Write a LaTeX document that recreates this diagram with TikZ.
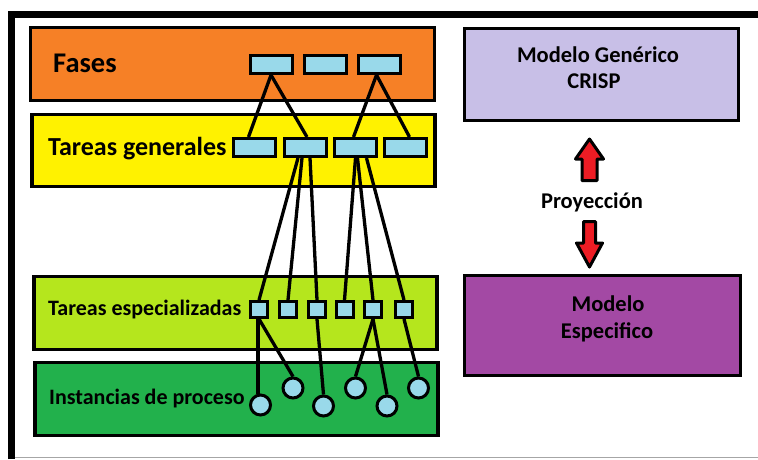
\documentclass[tikz,border=0pt]{standalone}
\usepackage{fontspec}
\setmainfont{Carlito}
\usetikzlibrary{calc}
\definecolor{faseorange}{RGB}{246,128,38}
\definecolor{tareayellow}{RGB}{255,242,0}
\definecolor{espelime}{RGB}{181,230,29}
\definecolor{instgreen}{RGB}{34,177,76}
\definecolor{genlavender}{RGB}{200,191,231}
\definecolor{especpurple}{RGB}{163,73,164}
\definecolor{itemblue}{RGB}{153,217,234}
\definecolor{arrowred}{RGB}{237,28,36}
\begin{document}
\begin{tikzpicture}[x=1pt,y=-1pt,
  band/.style={draw=black, line width=3.4pt, rectangle, inner sep=0pt},
  item/.style={draw=black, line width=3pt, fill=itemblue, rectangle, inner sep=0pt, minimum width=42pt, minimum height=18pt},
  subitem/.style={draw=black, line width=3pt, fill=itemblue, rectangle, inner sep=0pt, minimum width=17pt, minimum height=16pt},
  inst/.style={draw=black, line width=3pt, fill=itemblue, circle, inner sep=0pt, minimum size=20pt},
  link/.style={draw=black, line width=3.3pt},
  lbl/.style={font=\bfseries, inner sep=0pt},
  blockarrow/.style={draw=black, fill=arrowred, line width=3pt, line join=round}
]
\useasboundingbox (0,0) rectangle (758,459);

% frame
\draw[line width=7pt, line join=miter] (11.5,459) -- (11.5,14.5) -- (758,14.5);
\draw[gray!70, line width=1.2pt] (15,457.5) -- (758,457.5);

% layered bands
\node[band, fill=faseorange, minimum width=404pt, minimum height=73pt] (fases) at (232.5,64) {};
\node[band, fill=tareayellow, minimum width=403pt, minimum height=72pt] (generales) at (233.5,150.5) {};
\node[band, fill=espelime, minimum width=403pt, minimum height=72.5pt] (especial) at (235.5,313) {};
\node[band, fill=instgreen, minimum width=403pt, minimum height=72.5pt] (instancias) at (236.5,399) {};

% model boxes
\node[band, fill=genlavender, minimum width=274pt, minimum height=92pt] (generico) at (601.5,74.5) {};
\node[band, fill=especpurple, minimum width=276pt, minimum height=100pt] (especifico) at (602.5,325.5) {};

% band labels
\node[lbl, anchor=base west, font=\bfseries\fontsize{28.5}{32}\selectfont] (tfases) at (53,72) {Fases};
\node[lbl, anchor=base west, font=\bfseries\fontsize{26}{30}\selectfont] (tgen) at (48,155) {Tareas generales};
\node[lbl, anchor=base west, font=\bfseries\fontsize{22}{26}\selectfont] (tesp) at (48,315) {Tareas especializadas};
\node[lbl, anchor=base west, font=\bfseries\fontsize{22}{26}\selectfont] (tinst) at (49,404) {Instancias de proceso};

% model labels
\node[lbl, anchor=base, font=\bfseries\fontsize{22.5}{26}\selectfont] (tgen1) at (598,62) {Modelo Genérico};
\node[lbl, anchor=base, font=\bfseries\fontsize{22.5}{26}\selectfont] (tgen2) at (594,88) {CRISP};
\node[lbl, anchor=base, font=\bfseries\fontsize{22.5}{26}\selectfont] (tproy) at (592,208) {Proyección};
\node[lbl, anchor=base, font=\bfseries\fontsize{22.5}{26}\selectfont] (tesp1) at (608,311) {Modelo};
\node[lbl, anchor=base, font=\bfseries\fontsize{22.5}{26}\selectfont] (tesp2) at (607,338) {Especifico};

% phases
\node[item] (f1) at (271,64.5) {};
\node[item] (f2) at (325.5,64.5) {};
\node[item] (f3) at (379.5,64.5) {};

% general tasks
\node[item] (g1) at (254.5,147.5) {};
\node[item] (g2) at (305,147.5) {};
\node[item] (g3) at (355.5,147.5) {};
\node[item] (g4) at (405.5,147.5) {};

% specialised tasks
\node[subitem] (s1) at (259,309.5) {};
\node[subitem] (s2) at (288,309.5) {};
\node[subitem] (s3) at (317,309.5) {};
\node[subitem] (s4) at (344.5,309.5) {};
\node[subitem] (s5) at (373,309.5) {};
\node[subitem] (s6) at (404,309.5) {};

% process instances
\node[inst] (c1) at (260.5,405) {};
\node[inst] (c2) at (293,388) {};
\node[inst] (c3) at (323.5,406) {};
\node[inst] (c4) at (355.5,388) {};
\node[inst] (c5) at (387,406) {};
\node[inst] (c6) at (418.5,388) {};

% phase -> general task links
\draw[link] (f1.south) -- ([xshift=-6pt]g1.north);
\draw[link] (f1.south) -- ([xshift=2pt]g2.north);
\draw[link] ([xshift=-3pt]f3.south) -- ([xshift=-2pt]g3.north);
\draw[link] ([xshift=-3pt]f3.south) -- ([xshift=4pt]g4.north);

% general -> specialised task links
\draw[link] ([xshift=-7pt]g2.south) -- (s1.north);
\draw[link] ([xshift=-3pt]g2.south) -- (s2.north);
\draw[link] ([xshift=5pt]g2.south) -- (s3.north);
\draw[link] (g3.south) -- (s4.north);
\draw[link] ([xshift=2pt]g3.south) -- (s5.north);
\draw[link] ([xshift=11pt]g3.south) -- (s6.north);

% specialised task -> instance links
\draw[link] ([xshift=-1pt]s1.south) -- ([xshift=-1pt]s1.south |- c1.north);
\draw[link] (s1.south) -- (c2.north);
\draw[link] (s3.south) -- (c3.north);
\draw[link] (s5.south) -- (c4.north);
\draw[link] (s5.south) -- (c5.north);
\draw[link] (s6.south) -- (c6.north);

% projection arrows
\draw[blockarrow] (589.5,139) -- (603.5,159) -- (597,159) -- (597,180.5)
  -- (582,180.5) -- (582,159) -- (575.5,159) -- cycle;
\draw[blockarrow] (589.5,267) -- (602.5,243) -- (595.5,243) -- (595.5,221.5)
  -- (583.5,221.5) -- (583.5,243) -- (576.5,243) -- cycle;
\end{tikzpicture}
\end{document}
